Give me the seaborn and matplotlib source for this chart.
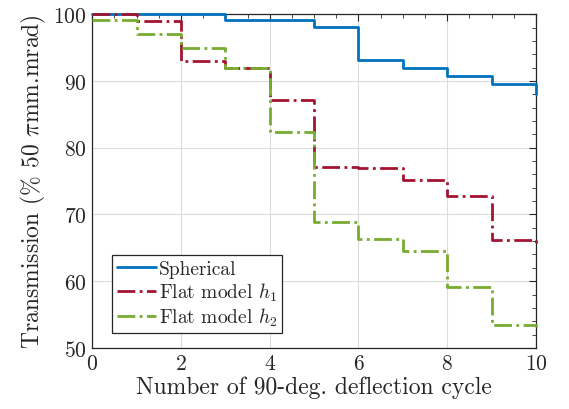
import matplotlib
matplotlib.use("Agg")
import matplotlib.pyplot as plt
import seaborn as sns
import pandas as pd
from matplotlib.ticker import MultipleLocator

cycles = [0, 1, 2, 3, 4, 5, 6, 7, 8, 9, 10]
spherical = [100.0, 100.0, 100.0, 99.1, 99.1, 98.1, 93.1, 92.0, 90.7, 89.6, 88.1]
flat_h1 = [100.0, 99.0, 93.0, 92.0, 87.2, 77.1, 76.9, 75.1, 72.8, 66.2, 65.1]
flat_h2 = [99.2, 97.1, 95.0, 92.0, 82.4, 68.9, 66.3, 64.5, 59.2, 53.4, 53.2]

series_names = ["Spherical", r"Flat model $h_1$", r"Flat model $h_2$"]
colors = ["#0072BD", "#A2142F", "#77AC30"]
styles = ["-", "-.", "-."]

sns.set_theme(style="white")
plt.rcParams["font.family"] = ["serif"]
plt.rcParams["font.serif"] = ["cmr10", "DejaVu Serif"]
plt.rcParams["mathtext.fontset"] = "cm"
plt.rcParams["axes.formatter.use_mathtext"] = True

fig = plt.figure(figsize=(5.69, 4.10), dpi=100)
ax = fig.add_axes([0.162, 0.149, 0.780, 0.814])

for name, vals, c, ls in zip(series_names, [spherical, flat_h1, flat_h2], colors, styles):
    df = pd.DataFrame({"cycle": cycles, "T": vals})
    sns.lineplot(data=df, x="cycle", y="T", ax=ax, color=c, linestyle=ls,
                 linewidth=2.0, drawstyle="steps-post", label=name,
                 clip_on=False, zorder=3)

ax.set_xlim(0, 10)
ax.set_ylim(50, 100)
ax.xaxis.set_major_locator(MultipleLocator(2))
ax.xaxis.set_minor_locator(MultipleLocator(0.5))
ax.yaxis.set_major_locator(MultipleLocator(10))
ax.yaxis.set_minor_locator(MultipleLocator(2))
ax.tick_params(which="both", direction="in", top=True, right=True, labelsize=15.5,
               pad=4, labelcolor="#262626")
ax.tick_params(which="major", length=5, width=0.8, color="#262626")
ax.tick_params(which="minor", length=3, width=0.6, color="#262626")
ax.grid(True, which="major", color="#dcdcdc", linewidth=0.8)
for s in ax.spines.values():
    s.set_color("#262626")
    s.set_linewidth(0.9)

ax.set_xlabel("Number of 90-deg. deflection cycle", fontsize=17, color="#262626", labelpad=2)
ax.set_ylabel(r"Transmission (% 50 $\pi$mm.mrad)", fontsize=17, color="#262626", labelpad=4)

leg = ax.legend(loc="lower left", bbox_to_anchor=(0.045, 0.045), fontsize=14,
                frameon=True, fancybox=False, edgecolor="#262626", framealpha=1,
                handlelength=2.0, handletextpad=0.15, borderpad=0.25, labelspacing=0.15,
                borderaxespad=0)
leg.get_frame().set_linewidth(0.9)
leg.set_zorder(5)

fig.savefig("out.png", dpi=100)
